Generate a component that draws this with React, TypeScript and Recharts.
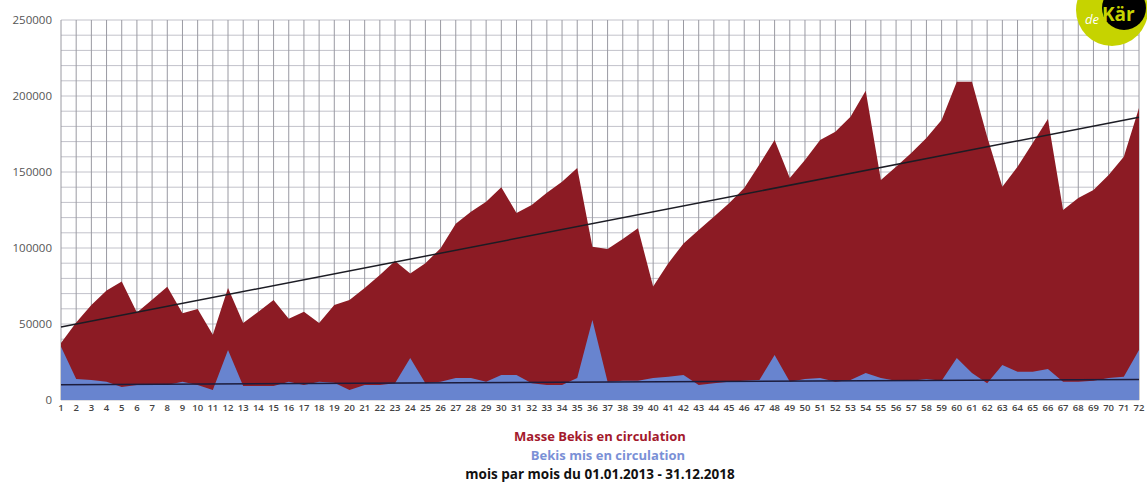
import {
  AreaChart,
  Area,
  XAxis,
  YAxis,
  CartesianGrid,
  ReferenceLine,
} from "recharts";

// mois 1..72 (01.01.2013 - 31.12.2018)
const months = Array.from({ length: 72 }, (_, i) => i + 1);

const masseBekis = [
  37500, 51000, 62500, 72000, 78000, 57500, 66000, 74500, 57000, 59800, 43000, 73700,
  50600, 58100, 65800, 53500, 58100, 50600, 62500, 65800, 73700, 82200, 91400, 83300,
  90000, 99800, 116000, 123900, 130500, 140000, 123000, 128300, 136400, 143600, 152600, 100900,
  99300, 106000, 113000, 74600, 90000, 103000, 111800, 120600, 129400, 139400, 155000, 171000,
  146000, 157900, 171000, 176500, 186400, 203500, 144700, 153500, 162500, 172400, 184200, 209400,
  209400, 173200, 140300, 153500, 169000, 184900, 125000, 132900, 138200, 148000, 160000, 192100,
];

const bekisMis = [
  35000, 13800, 13200, 12000, 8500, 9900, 9900, 9900, 12000, 9900, 6600, 32900,
  9200, 9200, 9200, 12000, 9900, 12000, 11400, 6600, 9900, 9900, 11000, 27600,
  11000, 12000, 14500, 14500, 12000, 16400, 16400, 11000, 9900, 9900, 14500, 52600,
  12000, 12700, 12700, 14500, 15300, 16400, 9900, 11000, 12000, 12700, 13200, 29600,
  12000, 13800, 14500, 12000, 13200, 17700, 14500, 12700, 12700, 13800, 12700, 27600,
  17700, 11000, 23000, 18600, 18600, 20400, 12000, 12000, 12700, 14500, 15300, 32900,
];

// trend lines (start / end values)
const masseTrend = [48000, 186000];
const misTrend = [10000, 13500];

const yLabels = [0, 50000, 100000, 150000, 200000, 250000];
const yGrid = Array.from({ length: 26 }, (_, i) => i * 10000);

const data = months.map((m, i) => ({
  month: m,
  masse: masseBekis[i],
  mis: bekisMis[i],
}));

const RED = "#8c1b24";
const BLUE = "#6884cf";

export default function App() {
  return (
    <div
      style={{
        position: "absolute",
        left: 0,
        top: 0,
        width: 1147,
        height: 483,
        background: "#fff",
        fontFamily: "'Open Sans', sans-serif",
        overflow: "hidden",
      }}
    >
      <AreaChart
        width={1147}
        height={420}
        data={data}
        margin={{ top: 20, right: 8, left: 0, bottom: 0 }}
      >
        <CartesianGrid horizontal={true} vertical={false} stroke="#c2c2ca" />
        <CartesianGrid horizontal={false} vertical={true} stroke="#9a9aa2" />
        <XAxis
          dataKey="month"
          interval={0}
          axisLine={false}
          tickLine={false}
          tickSize={0}
          tickMargin={4}
          height={20}
          tick={{ fontSize: 9.5, fill: "#444", fontWeight: 600, fontFamily: "'Open Sans', sans-serif" }}
        />
        <YAxis
          type="number"
          domain={[0, 250000]}
          ticks={yGrid}
          interval={0}
          width={61}
          axisLine={false}
          tickLine={false}
          tickSize={0}
          tickMargin={9}
          tickFormatter={(v: number) => (yLabels.includes(v) ? String(v) : "")}
          tick={{ fontSize: 11.5, fill: "#555", fontFamily: "'Open Sans', sans-serif" }}
        />
        <Area
          type="linear"
          dataKey="masse"
          stroke="none"
          fill={RED}
          fillOpacity={1}
          isAnimationActive={false}
          dot={false}
          activeDot={false}
        />
        <Area
          type="linear"
          dataKey="mis"
          stroke="none"
          fill={BLUE}
          fillOpacity={1}
          isAnimationActive={false}
          dot={false}
          activeDot={false}
        />
        <ReferenceLine
          segment={[
            { x: 1, y: masseTrend[0] },
            { x: 72, y: masseTrend[1] },
          ]}
          stroke="#1c1c24"
          strokeWidth={1.5}
          ifOverflow="visible"
        />
        <ReferenceLine
          segment={[
            { x: 1, y: misTrend[0] },
            { x: 72, y: misTrend[1] },
          ]}
          stroke="#1c1c3c"
          strokeWidth={1.5}
          ifOverflow="visible"
        />
      </AreaChart>

      {/* legend / caption */}
      <div
        style={{
          position: "absolute",
          left: 0,
          top: 427,
          width: 1200,
          textAlign: "center",
          fontSize: 13,
          fontWeight: 700,
          lineHeight: "19px",
        }}
      >
        <div style={{ color: "#a3192c" }}>Masse Bekis en circulation</div>
        <div style={{ color: "#7a90d6", paddingLeft: 16 }}>Bekis mis en circulation</div>
        <div style={{ color: "#111", fontSize: 13.5 }}>mois par mois du 01.01.2013 - 31.12.2018</div>
      </div>

      {/* logo */}
      <svg
        width={80}
        height={60}
        style={{ position: "absolute", left: 1072, top: 0 }}
      >
        <circle cx={40} cy={10} r={36} fill="#c6d300" />
        <circle cx={52} cy={8} r={22} fill="#000" />
        <text x={13} y={24} fontSize={13} fontStyle="italic" fill="#fff" fontFamily="'Open Sans', sans-serif">
          de
        </text>
        <text x={30} y={21} fontSize={19} fontWeight={700} fill="#c6d300" fontFamily="'Open Sans', sans-serif">
          Kär
        </text>
      </svg>
    </div>
  );
}
